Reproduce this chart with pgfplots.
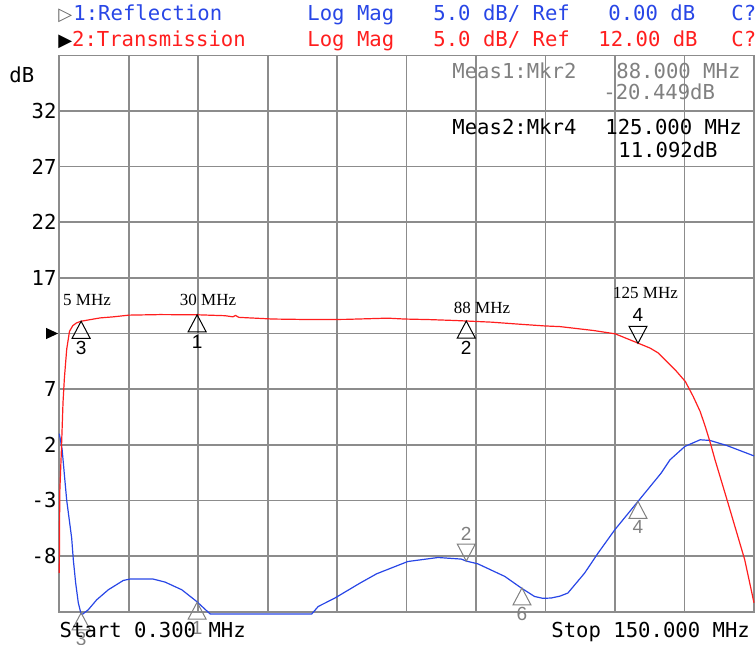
\documentclass[border=0pt]{standalone}
\usepackage{fontspec}
\setmainfont{Liberation Sans}
\newfontfamily\scr{DejaVu Sans Mono}
\newfontfamily\tms{Liberation Serif}
\newfontfamily\sym{DejaVu Sans}
\usepackage{pgfplots}
\pgfplotsset{compat=1.18}

\definecolor{trblue}{RGB}{40,70,230}
\definecolor{trred}{RGB}{255,30,30}
\definecolor{grd}{RGB}{140,140,140}
\definecolor{mkgray}{RGB}{128,128,128}

% marker shapes: tip of the triangle sits on the trace
\pgfdeclareplotmark{mkup}{%
  \pgfpathmoveto{\pgfqpoint{0pt}{0pt}}%
  \pgfpathlineto{\pgfqpoint{-4.5pt}{-8.5pt}}%
  \pgfpathlineto{\pgfqpoint{4.5pt}{-8.5pt}}%
  \pgfpathclose\pgfusepathqstroke}
\pgfdeclareplotmark{mkdown}{%
  \pgfpathmoveto{\pgfqpoint{0pt}{0pt}}%
  \pgfpathlineto{\pgfqpoint{-4.5pt}{8.5pt}}%
  \pgfpathlineto{\pgfqpoint{4.5pt}{8.5pt}}%
  \pgfpathclose\pgfusepathqstroke}
\pgfdeclareplotmark{refarrow}{%
  \pgfpathmoveto{\pgfqpoint{-0.6pt}{0pt}}%
  \pgfpathlineto{\pgfqpoint{-6.6pt}{2.8pt}}%
  \pgfpathlineto{\pgfqpoint{-6.6pt}{-2.8pt}}%
  \pgfpathclose\pgfusepathqfill}

\newcommand\mono{\scr\fontsize{10.3}{12}\selectfont}

\begin{document}
\begin{tikzpicture}
\begin{axis}[
  at={(0,0)}, anchor=south west, scale only axis,
  width=347.35pt, height=278.2pt,
  xmin=0.3, xmax=150, ymin=-13, ymax=37, clip=false,
  xtick={0.3,15.27,30.24,45.21,60.18,75.15,90.12,105.09,120.06,135.03,150},
  xticklabels={},
  ytick={-13,-8,...,37}, yticklabels={,-8,-3,2,7,,17,22,27,32,},
  major tick length=0pt, grid=major,
  grid style={grd, line width=0.8pt},
  axis line style={grd, line width=0.8pt},
  yticklabel style={font=\mono, anchor=east, inner sep=0pt, xshift=-1.2pt},
  mk/.style={only marks, line width=0.5pt, point meta=explicit symbolic,
    nodes near coords, nodes near coords style={anchor=center,
    font=\fontsize{9.5}{11}\selectfont}},
]
% reflection (display scale: ref 0 dB on the 12 dB line)
\addplot[trblue, line width=0.6pt] coordinates {
 (0.3,3.0) (0.9,1.6) (1.9,-3.0) (2.97,-6.4) (3.32,-8.33) (3.83,-10.43)
 (4.4,-12.22) (5.0,-13.2) (5.4,-13.2) (6.55,-12.82) (8.36,-11.93) (10.86,-11.03)
 (14.1,-10.19) (15.5,-10.07) (20.56,-10.07) (23.1,-10.34) (26.7,-11.03)
 (29.9,-12.08) (31.5,-12.7) (32.8,-13.2) (54.7,-13.2) (56.1,-12.53) (59.7,-11.77)
 (65.1,-10.43) (68.7,-9.59) (75.4,-8.49) (81.9,-8.13) (86.9,-8.27) (88,-8.45)
 (90.5,-8.7) (96.3,-9.83) (99.85,-10.87) (102.7,-11.63) (104.5,-11.8)
 (106.3,-11.77) (108.2,-11.6) (109.9,-11.32) (113.5,-9.53) (116.4,-7.73)
 (120.0,-5.64) (125.0,-3.09) (130.0,-0.54) (131.9,0.65) (135.1,1.85)
 (138.4,2.45) (140.5,2.39) (144.1,1.94) (150,1.0)};
% transmission
\addplot[trred, line width=0.6pt] coordinates {
 (0.3,-9.5) (0.4,-2.3) (0.75,1.5) (1.1,5.8) (1.4,8.0) (1.9,10.6) (2.5,12.2)
 (3.2,12.7) (4.0,12.95) (5.0,13.1) (7.0,13.25) (9.1,13.4) (12.0,13.5) (15.3,13.65)
 (22,13.7) (30.2,13.68) (36,13.6) (37.7,13.5) (38.3,13.62) (39,13.45) (46.3,13.3)
 (55,13.25) (62,13.27) (68.7,13.35) (71,13.38) (74.7,13.3) (80,13.25) (85.5,13.17)
 (93.4,13.02) (100,12.82) (104.9,12.68) (108.2,12.62) (115.4,12.27) (120.1,11.97)
 (125.1,11.12) (127.6,10.69) (129.4,10.24) (131.2,9.48) (133.0,8.74) (135.2,7.69)
 (136.9,6.34) (138.4,4.99) (139.5,3.64) (140.6,2.15) (141.6,0.65) (144.4,-3.24)
 (148.0,-8.33) (150,-12.2)};
% markers
\addplot[mk, mark=mkup, mkgray, nodes near coords style={yshift=-13pt}]
 coordinates {(5,-13.1)[3] (30,-12.15)[1] (100,-10.87)[6] (125,-3.09)[4]};
\addplot[mk, mark=mkdown, mkgray, nodes near coords style={yshift=13.5pt}]
 coordinates {(88,-8.45)[2]};
\addplot[mk, mark=mkup, black, nodes near coords style={yshift=-13.5pt}]
 coordinates {(5,13.1)[3] (30,13.68)[1] (88,13.12)[2]};
\addplot[mk, mark=mkdown, black, nodes near coords style={yshift=14pt}]
 coordinates {(125,11.12)[4]};
\addplot[only marks, mark=refarrow, black] coordinates {(0.3,12)};
\end{axis}

\begin{scope}[x=0.5pt, y=-0.5pt, shift={(-29.65pt,305.85pt)},
  every node/.style={inner sep=0pt, anchor=base west, font=\mono}]
\node[text=black!60] at (58,21) {\sym\fontsize{9}{10}\selectfont ▷};
\node[text=trblue] at (73,21) {1:Reflection};
\node[text=trblue] at (307,21) {Log Mag};
\node[text=trblue] at (433,21) {5.0 dB/ Ref};
\node[text=trblue] at (608,21) {0.00 dB};
\node[text=trblue] at (731,21) {C?};
\node[text=black] at (58,46.5) {\sym\fontsize{9}{10}\selectfont ▶};
\node[text=trred] at (71.7,46.5) {2:Transmission};
\node[text=trred] at (307,46.5) {Log Mag};
\node[text=trred] at (433,46.5) {5.0 dB/ Ref};
\node[text=trred] at (598,46.5) {12.00 dB};
\node[text=trred] at (731,46.5) {C?};
\node[text=mkgray] at (452,79) {Meas1:Mkr2};
\node[text=mkgray] at (616,79) {88.000 MHz};
\node[text=mkgray] at (603,100) {-20.449dB};
\node at (452,135) {Meas2:Mkr4};
\node at (605,135) {125.000 MHz};
\node at (618,157.5) {11.092dB};
\node at (9,83) {dB};
\node at (59.3,637) {Start 0.300 MHz};
\node at (551,637) {Stop 150.000 MHz};
\begin{scope}[every node/.style={anchor=center, inner sep=0pt,
  font=\tms\fontsize{8.5}{10}\selectfont}]
\node at (87,300) {5 MHz};
\node at (208,300) {30 MHz};
\node at (482,308) {88 MHz};
\node at (645.5,293) {125 MHz};
\end{scope}
\pgfresetboundingbox
\path[use as bounding box] (0,0) rectangle (756,644);
\end{scope}
\end{tikzpicture}
\end{document}
